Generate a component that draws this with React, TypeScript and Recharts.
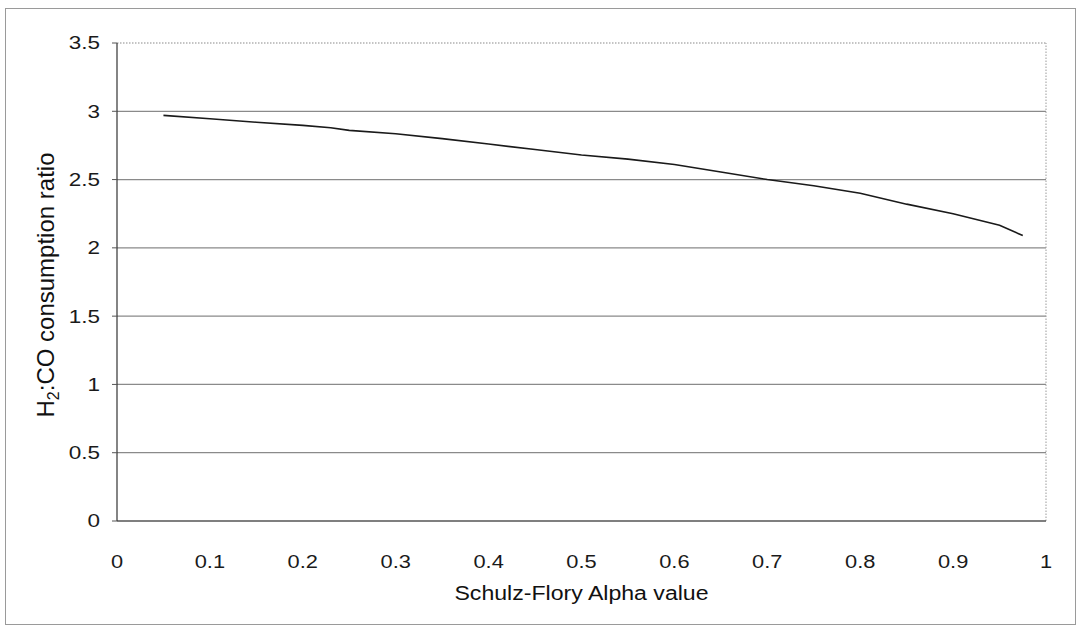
import { LineChart, Line, XAxis, YAxis, ReferenceLine, Label } from 'recharts'

// Schulz-Flory alpha vs H2:CO consumption ratio
const ALPHA = [0.05, 0.1, 0.15, 0.2, 0.23, 0.25, 0.3, 0.35, 0.4, 0.45, 0.5, 0.55, 0.6, 0.65, 0.7, 0.75, 0.8, 0.85, 0.9, 0.95, 0.975]
const RATIO = [2.97, 2.945, 2.92, 2.897, 2.88, 2.86, 2.835, 2.8, 2.76, 2.72, 2.68, 2.65, 2.61, 2.555, 2.5, 2.455, 2.4, 2.32, 2.25, 2.165, 2.09]

const X_TICKS = [0, 0.1, 0.2, 0.3, 0.4, 0.5, 0.6, 0.7, 0.8, 0.9, 1]
const Y_TICKS = [0, 0.5, 1, 1.5, 2, 2.5, 3, 3.5]
const X_TITLE = 'Schulz-Flory Alpha value'

const data = ALPHA.map((a, i) => ({ alpha: a, ratio: RATIO[i] }))

const FONT = '"Liberation Sans", Arial, sans-serif'

function XTick({ x, y, payload }: any) {
  return (
    <text
      transform={`translate(${x},${y}) scale(1.15,1)`}
      textAnchor="middle"
      dy="0.71em"
      fontSize={19}
      fontFamily={FONT}
      fill="#1a1a1a"
    >
      {payload.value}
    </text>
  )
}

function YTick({ x, y, payload }: any) {
  return (
    <text
      transform={`translate(${x},${y}) scale(1.25,1)`}
      textAnchor="end"
      dy="0.36em"
      fontSize={18}
      fontFamily={FONT}
      fill="#1a1a1a"
    >
      {payload.value}
    </text>
  )
}

function XTitle({ viewBox }: any) {
  const cx = viewBox.x + viewBox.width / 2
  const by = viewBox.y + 79
  return (
    <text
      transform={`translate(${cx},${by}) scale(1.1,1)`}
      textAnchor="middle"
      fontSize={21}
      fontFamily={FONT}
      fill="#111"
    >
      {X_TITLE}
    </text>
  )
}

function YTitle({ viewBox }: any) {
  const cx = viewBox.x + 28
  const cy = viewBox.y + viewBox.height / 2 + 3
  return (
    <text
      transform={`translate(${cx},${cy}) rotate(-90)`}
      textAnchor="middle"
      dy="0.36em"
      fontSize={24}
      fontFamily={FONT}
      fill="#111"
    >
      <tspan>H</tspan>
      <tspan dy={5} fontSize={16}>2</tspan>
      <tspan dy={-5}>:CO consumption ratio</tspan>
    </text>
  )
}

export default function App() {
  return (
    <div style={{ position: 'absolute', left: 0, top: 0, width: 1079, height: 630, background: '#fff' }}>
      <div
        style={{
          position: 'absolute',
          left: 5,
          top: 8,
          width: 1069,
          height: 615,
          border: '1px solid #9a9a9a',
        }}
      />
      <LineChart
        width={1079}
        height={630}
        data={data}
        margin={{ top: 43, right: 33, bottom: 0, left: 17 }}
        style={{ position: 'absolute', left: 0, top: 0 }}
      >
        {Y_TICKS.filter((v) => v > 0).map((v) => (
          <ReferenceLine
            key={v}
            y={v}
            stroke="#8a8a8a"
            strokeWidth={1.2}
            strokeDasharray={v === 3.5 ? '1.5 1.5' : undefined}
          />
        ))}
        <ReferenceLine x={1} stroke="#9a9a9a" strokeDasharray="1.5 1.5" />
        <XAxis
          dataKey="alpha"
          type="number"
          domain={[0, 1]}
          ticks={X_TICKS}
          tickLine={false}
          tickMargin={28}
          axisLine={{ stroke: '#555', strokeWidth: 1.6 }}
          tick={<XTick />}
          height={109}
          interval={0}
        >
          <Label content={<XTitle />} />
        </XAxis>
        <YAxis
          type="number"
          domain={[0, 3.5]}
          ticks={Y_TICKS}
          width={100}
          tickSize={5}
          tickMargin={12}
          tickLine={{ stroke: '#555' }}
          axisLine={{ stroke: '#333', strokeWidth: 1.2 }}
          tick={<YTick />}
          interval={0}
        >
          <Label content={<YTitle />} />
        </YAxis>
        <Line
          type="linear"
          dataKey="ratio"
          stroke="#1a1a1a"
          strokeWidth={1.6}
          dot={false}
          isAnimationActive={false}
        />
      </LineChart>
    </div>
  )
}
